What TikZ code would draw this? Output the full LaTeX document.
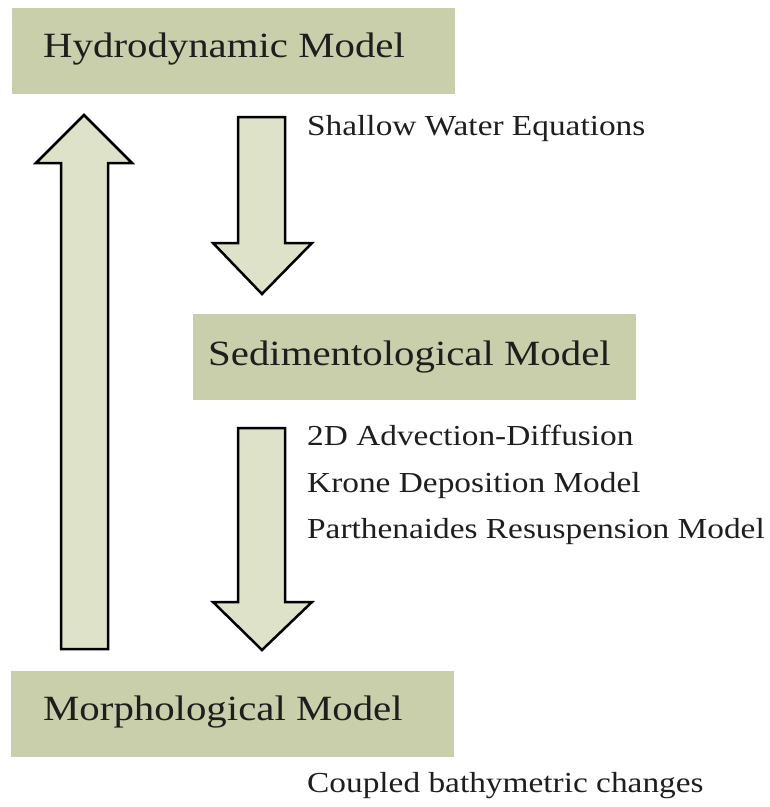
\documentclass[tikz,border=0pt]{standalone}
\usepackage{graphicx}
\usepackage{fontspec}
\setmainfont{Liberation Serif}
\definecolor{boxfill}{RGB}{201,207,171}
\definecolor{arrfill}{RGB}{222,226,200}
\definecolor{txt}{RGB}{30,30,30}
\newcommand{\wide}[1]{\scalebox{1.15}[1]{#1}}
\begin{document}
\begin{tikzpicture}[x=1pt,y=-1pt,
  modelbox/.style={fill=boxfill,draw=none,inner sep=0pt},
  title/.style={anchor=base west,inner sep=0pt,text=txt,font=\fontsize{35.5}{40}\selectfont},
  note/.style={anchor=base west,inner sep=0pt,text=txt,font=\fontsize{29}{34}\selectfont},
  blockarrow/.style={fill=arrfill,draw=black,line width=2.5pt,line join=miter}]
\useasboundingbox (0,0) rectangle (770,807);
\fill[white] (0,0) rectangle (770,807);
% boxes
\path[modelbox] (12,8) rectangle (455,94);
\path[modelbox] (193,314) rectangle (636,400);
\path[modelbox] (11,671) rectangle (454,757);
\node[title] (hyd) at (43,57) {\wide{Hydrodynamic Model}};
\node[title] (sed) at (208,365) {\wide{Sedimentological Model}};
\node[title] (mor) at (43,720) {\wide{Morphological Model}};
% notes
\node[note] (swe) at (307,135) {\wide{Shallow Water Equations}};
\node[note] (adv) at (307,445) {\wide{2D Advection-Diffusion}};
\node[note] (kro) at (307,492) {\wide{Krone Deposition Model}};
\node[note] (par) at (307,538) {\wide{Parthenaides Resuspension Model}};
\node[note] (cbc) at (307,792) {\wide{Coupled bathymetric changes}};
% up arrow
\draw[blockarrow] (61,649) -- (61,163) -- (36,163) -- (84,115) -- (132,163) -- (108,163) -- (108,649) -- cycle;
% down arrow 1
\draw[blockarrow] (238,117) -- (285,117) -- (285,243) -- (312,243) -- (262,294) -- (213,243) -- (238,243) -- cycle;
% down arrow 2
\draw[blockarrow] (238,428) -- (285,428) -- (285,602) -- (312,602) -- (262,650) -- (213,602) -- (238,602) -- cycle;
\end{tikzpicture}
\end{document}
